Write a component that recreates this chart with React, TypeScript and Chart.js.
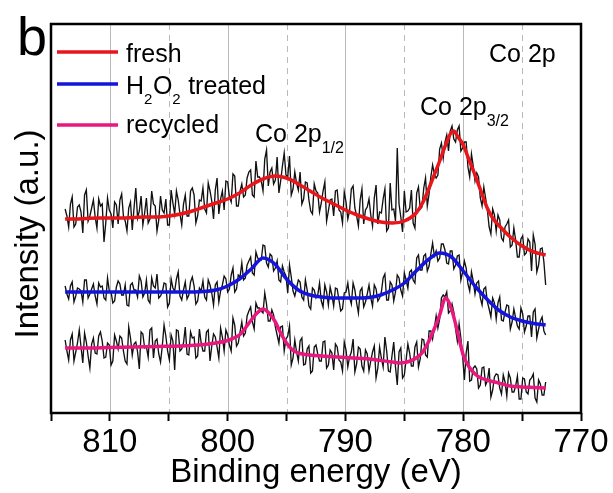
import React, { useEffect, useRef } from 'react';
import { Chart, registerables } from 'chart.js';

Chart.register(...registerables);

const FONT = "'Liberation Sans', Arial, Helvetica, sans-serif";

// x axis (binding energy, eV)
const X_MIN = 770;
const X_MAX = 815;
const TICK_VALUES = [815, 810, 805, 800, 795, 790, 785, 780, 775, 770];
const TICK_LABELS = ['', '810', '', '800', '', '790', '', '780', '', '770'];
const GRID_SOLID = [810, 800, 790, 780];
const GRID_DASHED = [805, 795, 785, 775];

// y axis (intensity, arbitrary units)
const Y_MIN = 0;
const Y_MAX = 389;

// raw spectra: uniform energy grid starting at 813.8 eV, step 0.15 eV (decreasing)
const RAW_START = 813.8;
const RAW_STEP = 0.15;

const FRESH_RAW = [
  204, 197, 186, 209, 216, 186, 189, 206, 208, 201, 180, 218, 223, 192, 197, 205, 213, 196, 185, 214,
  207, 209, 171, 190, 215, 203, 199, 185, 211, 208, 189, 213, 219, 197, 192, 182, 205, 211, 183, 205,
  225, 195, 202, 217, 188, 200, 215, 190, 194, 222, 209, 207, 182, 193, 217, 203, 200, 214, 188, 188,
  223, 210, 199, 222, 213, 199, 188, 209, 218, 197, 197, 222, 225, 218, 190, 197, 213, 212, 225, 204,
  200, 230, 222, 212, 194, 223, 235, 199, 214, 222, 203, 232, 231, 216, 211, 239, 237, 207, 207, 222,
  229, 216, 218, 235, 241, 243, 218, 216, 252, 236, 236, 232, 222, 254, 263, 227, 241, 245, 229, 233,
  256, 220, 232, 247, 260, 238, 236, 257, 218, 224, 241, 230, 223, 241, 209, 214, 231, 230, 213, 202,
  199, 229, 222, 220, 201, 210, 222, 231, 192, 202, 213, 214, 197, 222, 223, 203, 201, 190, 221, 211,
  194, 202, 224, 227, 205, 197, 187, 213, 224, 189, 203, 206, 214, 198, 187, 215, 228, 189, 201, 200,
  214, 224, 182, 185, 230, 203, 204, 192, 265, 209, 196, 181, 222, 201, 202, 205, 223, 190, 185, 220,
  226, 204, 206, 225, 235, 207, 219, 236, 248, 239, 235, 238, 264, 270, 255, 271, 278, 262, 282, 287,
  274, 271, 283, 287, 262, 265, 271, 271, 246, 236, 259, 247, 232, 240, 236, 215, 207, 226, 215, 203,
  186, 179, 204, 198, 182, 198, 193, 175, 172, 186, 189, 193, 166, 168, 185, 173, 156, 156, 174, 177,
  158, 160, 174, 171, 142, 178, 169, 141, 148, 164, 165, 151, 128,
];

const H2O2_RAW = [
  127, 119, 114, 127, 131, 111, 117, 125, 124, 122, 111, 133, 133, 115, 119, 124, 129, 117, 109, 130,
  126, 127, 115, 113, 135, 122, 121, 110, 112, 126, 132, 129, 118, 118, 128, 108, 107, 128, 130, 123,
  123, 116, 137, 132, 116, 120, 133, 113, 110, 135, 127, 125, 139, 115, 117, 121, 130, 129, 106, 110,
  134, 125, 122, 134, 141, 117, 113, 123, 131, 114, 118, 131, 136, 127, 109, 112, 125, 122, 132, 116,
  113, 133, 128, 120, 108, 128, 131, 111, 122, 128, 137, 134, 121, 124, 138, 145, 121, 124, 138, 136,
  150, 133, 135, 148, 152, 156, 140, 138, 161, 155, 154, 153, 168, 167, 150, 146, 159, 157, 142, 145,
  152, 133, 131, 147, 141, 137, 120, 148, 136, 122, 117, 125, 133, 131, 116, 113, 133, 123, 107, 104,
  125, 123, 115, 118, 130, 112, 106, 128, 121, 108, 126, 118, 107, 125, 124, 113, 102, 104, 120, 121,
  130, 116, 109, 130, 123, 110, 100, 122, 125, 106, 111, 119, 128, 115, 107, 128, 124, 112, 115, 121,
  135, 139, 113, 113, 131, 128, 112, 121, 138, 135, 123, 117, 140, 133, 125, 141, 143, 133, 130, 155,
  158, 143, 143, 157, 159, 142, 147, 159, 170, 157, 162, 152, 155, 169, 169, 163, 150, 149, 162, 162,
  144, 148, 157, 158, 133, 141, 152, 145, 129, 122, 141, 132, 119, 130, 132, 115, 108, 124, 126, 111,
  104, 96, 115, 110, 94, 110, 116, 93, 92, 101, 108, 107, 84, 91, 104, 95, 87, 84, 105, 99,
  81, 87, 97, 97, 76, 101, 104, 75, 84, 92, 96, 82, 78,
];

const RECYCLED_RAW = [
  73, 62, 53, 73, 79, 52, 61, 70, 83, 66, 50, 80, 71, 57, 45, 69, 75, 60, 59, 77,
  81, 72, 55, 56, 70, 68, 48, 52, 78, 72, 64, 77, 75, 62, 52, 49, 86, 75, 58, 69,
  71, 61, 44, 81, 79, 65, 66, 56, 83, 85, 55, 72, 74, 59, 51, 67, 88, 77, 62, 53,
  78, 72, 43, 83, 82, 62, 64, 70, 86, 59, 58, 81, 75, 76, 55, 57, 84, 70, 62, 62,
  81, 83, 52, 67, 79, 76, 66, 55, 85, 76, 62, 83, 78, 68, 62, 95, 88, 67, 70, 81,
  91, 77, 80, 97, 102, 106, 91, 84, 110, 105, 105, 102, 100, 120, 109, 92, 92, 103, 98, 86,
  78, 70, 86, 87, 62, 74, 77, 87, 48, 55, 73, 61, 52, 72, 75, 48, 49, 64, 67, 40,
  42, 66, 68, 59, 52, 52, 71, 72, 45, 48, 63, 60, 43, 69, 66, 53, 51, 42, 71, 63,
  46, 56, 61, 74, 41, 49, 66, 64, 47, 42, 63, 59, 42, 52, 61, 67, 35, 45, 66, 55,
  46, 76, 62, 42, 41, 57, 71, 46, 28, 61, 65, 35, 38, 53, 69, 60, 47, 47, 66, 71,
  46, 54, 74, 73, 58, 56, 82, 82, 74, 85, 97, 85, 94, 115, 118, 116, 121, 100, 102, 109,
  101, 84, 72, 89, 75, 57, 33, 60, 72, 32, 33, 45, 47, 44, 25, 28, 45, 46, 28, 32,
  45, 16, 23, 36, 39, 38, 25, 19, 38, 31, 17, 40, 35, 21, 21, 27, 37, 14, 14, 35,
  34, 21, 19, 33, 35, 39, 15, 11, 33, 29, 18, 18, 31,
];

// fitted envelopes
const FRESH_FIT_E = [813.8, 813, 812, 811, 810, 809, 808, 807, 806, 805, 804, 803, 802, 801, 800, 799, 798, 797, 796, 795, 794, 793, 792, 791, 790, 789, 788, 787, 786, 785, 784, 783.5, 783, 782.5, 782, 781.5, 781, 780.8, 780.5, 780, 779.5, 779, 778.5, 778, 777.5, 777, 776, 775, 774, 773];
const FRESH_FIT = [194, 194, 194.5, 195, 195, 195, 195.5, 196, 196, 197, 199, 202, 206, 210, 214, 220, 228, 234, 237, 235, 229, 222, 215, 209, 203, 198, 194, 191, 190, 192, 200, 209, 222, 237, 252, 268, 281, 282, 277, 268, 253, 238, 222, 206, 195, 188, 176, 167, 161, 158];

const H2O2_FIT_E = [813.8, 812, 810, 808, 806, 804, 802, 801, 800, 799, 798, 797, 796, 795, 794, 793, 792, 791, 790, 789, 788, 787, 786, 785, 784, 783, 782, 781, 780, 779, 778, 777, 776, 775, 774, 773];
const H2O2_FIT = [121, 121, 121, 121, 121, 121, 121.5, 123, 127, 134, 144, 155, 149, 134, 123, 118, 116, 115, 115, 115, 115.5, 118, 123, 130, 142, 153, 160, 156, 142, 127, 114, 103, 96, 92, 89.5, 88];

const RECYCLED_FIT_E = [813.8, 812, 810, 808, 806, 804, 802, 801, 800, 799.5, 799, 798.5, 798, 797.5, 797, 796.5, 796, 795.5, 795, 794.5, 794, 793, 792, 790, 788, 786, 785.3, 785, 784.5, 784, 783.5, 783, 782.5, 782, 781.5, 781, 780.5, 780, 779.5, 779, 778.5, 778, 777, 776, 775, 774, 773];
const RECYCLED_FIT = [65, 65, 65.5, 66, 66.5, 67, 68.5, 70, 72.5, 75, 78, 85, 93, 100, 104, 100, 92, 80, 70, 63, 60, 58, 57, 55.5, 54, 51, 50, 50.5, 52, 55, 60, 70, 83, 98, 115, 104, 82, 58, 46, 39, 35, 33, 30, 27, 26, 25.5, 25];

const COLORS = { fresh: '#e8151b', h2o2: '#1414dc', recycled: '#e8187e', raw: '#111111' };

// legend: segments [text, isSubscript]
const LEGEND = [
  { color: COLORS.fresh, parts: [['fresh', false]] },
  { color: COLORS.h2o2, parts: [['H', false], ['2', true], ['O', false], ['2', true], [' treated', false]] },
  { color: COLORS.recycled, parts: [['recycled', false]] },
] as { color: string; parts: [string, boolean][] }[];

const X_TITLE = 'Binding energy (eV)';
const Y_TITLE = 'Intensity (a.u.)';

function rawPoints(values: number[]) {
  return values.map((v, i) => ({ x: +(RAW_START - i * RAW_STEP).toFixed(2), y: v }));
}
function fitPoints(es: number[], vs: number[]) {
  return es.map((e, i) => ({ x: e, y: vs[i] }));
}

function drawParts(ctx: CanvasRenderingContext2D, parts: [string, boolean][], x: number, y: number, size: number, subSize: number, subDrop: number) {
  let cx = x;
  for (const [t, sub] of parts) {
    ctx.font = `${sub ? subSize : size}px ${FONT}`;
    ctx.fillText(t, cx, sub ? y + subDrop : y);
    cx += ctx.measureText(t).width + (sub ? 0.5 : 0);
  }
}

const overlay = {
  id: 'overlay',
  beforeDatasetsDraw(chart: any) {
    const { ctx, chartArea: a } = chart;
    const xs = chart.scales.x;
    ctx.save();
    ctx.strokeStyle = '#b9b9b9';
    ctx.lineWidth = 1;
    ctx.setLineDash([]);
    for (const v of GRID_SOLID) {
      const px = Math.round(xs.getPixelForValue(v)) + 0.5;
      ctx.beginPath(); ctx.moveTo(px, a.top); ctx.lineTo(px, a.bottom); ctx.stroke();
    }
    ctx.setLineDash([6, 5]);
    for (const v of GRID_DASHED) {
      const px = Math.round(xs.getPixelForValue(v)) + 0.5;
      ctx.beginPath(); ctx.moveTo(px, a.top); ctx.lineTo(px, a.bottom); ctx.stroke();
    }
    ctx.restore();
  },
  afterDraw(chart: any) {
    const { ctx, chartArea: a } = chart;
    ctx.save();
    ctx.setLineDash([]);
    ctx.strokeStyle = '#000';
    ctx.lineWidth = 2.5;
    ctx.strokeRect(a.left, a.top, a.right - a.left, a.bottom - a.top);

    // legend
    const lineYs = [52, 84, 125];
    const textYs = [62, 94, 133];
    ctx.fillStyle = '#000';
    ctx.textAlign = 'left';
    ctx.textBaseline = 'alphabetic';
    LEGEND.forEach((item, i) => {
      ctx.strokeStyle = item.color;
      ctx.lineWidth = 3.5;
      ctx.beginPath(); ctx.moveTo(57, lineYs[i]); ctx.lineTo(118, lineYs[i]); ctx.stroke();
      drawParts(ctx, item.parts, 126, textYs[i], 25, 15, 10);
    });

    // annotations
    ctx.font = `54px ${FONT}`;
    ctx.fillText('b', 17, 55);
    drawParts(ctx, [['Co 2p', false]], 489, 62, 25, 16, 11);
    drawParts(ctx, [['Co 2p', false], ['3/2', true]], 420, 115, 25, 16, 11);
    drawParts(ctx, [['Co 2p', false], ['1/2', true]], 255, 142, 25, 16, 11);

    // y title
    ctx.translate(38, 234);
    ctx.rotate(-Math.PI / 2);
    ctx.textAlign = 'center';
    ctx.font = `33px ${FONT}`;
    ctx.fillText(Y_TITLE, 0, 0);
    ctx.restore();
  },
};

export default function App() {
  const ref = useRef<HTMLCanvasElement>(null);
  useEffect(() => {
    const canvas = ref.current!;
    const chart = new Chart(canvas, {
      type: 'line',
      data: {
        datasets: [
          { data: fitPoints(FRESH_FIT_E, FRESH_FIT), borderColor: COLORS.fresh, borderWidth: 3.5, pointRadius: 0, cubicInterpolationMode: 'monotone', order: 0 },
          { data: fitPoints(H2O2_FIT_E, H2O2_FIT), borderColor: COLORS.h2o2, borderWidth: 3.5, pointRadius: 0, cubicInterpolationMode: 'monotone', order: 0 },
          { data: fitPoints(RECYCLED_FIT_E, RECYCLED_FIT), borderColor: COLORS.recycled, borderWidth: 3.5, pointRadius: 0, cubicInterpolationMode: 'monotone', order: 0 },
          { data: rawPoints(FRESH_RAW), borderColor: COLORS.raw, borderWidth: 1.35, pointRadius: 0, tension: 0, order: 1 },
          { data: rawPoints(H2O2_RAW), borderColor: COLORS.raw, borderWidth: 1.35, pointRadius: 0, tension: 0, order: 1 },
          { data: rawPoints(RECYCLED_RAW), borderColor: COLORS.raw, borderWidth: 1.35, pointRadius: 0, tension: 0, order: 1 },
        ] as any,
      },
      options: {
        responsive: false,
        devicePixelRatio: 1,
        animation: false,
        layout: { padding: { left: 51, right: 32, top: 24, bottom: 0 } },
        plugins: { legend: { display: false }, tooltip: { enabled: false } },
        scales: {
          x: {
            type: 'linear',
            min: X_MIN,
            max: X_MAX,
            reverse: true,
            afterBuildTicks: (s: any) => { s.ticks = TICK_VALUES.map((v) => ({ value: v })); },
            afterFit: (s: any) => { s.height = 80; },
            ticks: {
              autoSkip: false,
              maxRotation: 0,
              padding: 2,
              color: '#000',
              font: { size: 33, family: FONT },
              callback: (v: any) => TICK_LABELS[TICK_VALUES.indexOf(Number(v))] ?? '',
            },
            grid: { drawOnChartArea: false, drawTicks: true, tickLength: 8, tickWidth: 2, tickColor: '#000' },
            border: { display: false },
            title: { display: true, text: X_TITLE, color: '#000', font: { size: 33, family: FONT }, padding: { top: 0, bottom: 0 } },
          },
          y: { type: 'linear', display: false, min: Y_MIN, max: Y_MAX },
        },
      } as any,
      plugins: [overlay],
    });
    return () => chart.destroy();
  }, []);
  return (
    <div style={{ position: 'absolute', left: 0, top: 0, width: 613, height: 493, background: '#fff' }}>
      <canvas ref={ref} width={613} height={493} style={{ display: 'block', width: 613, height: 493 }} />
    </div>
  );
}
